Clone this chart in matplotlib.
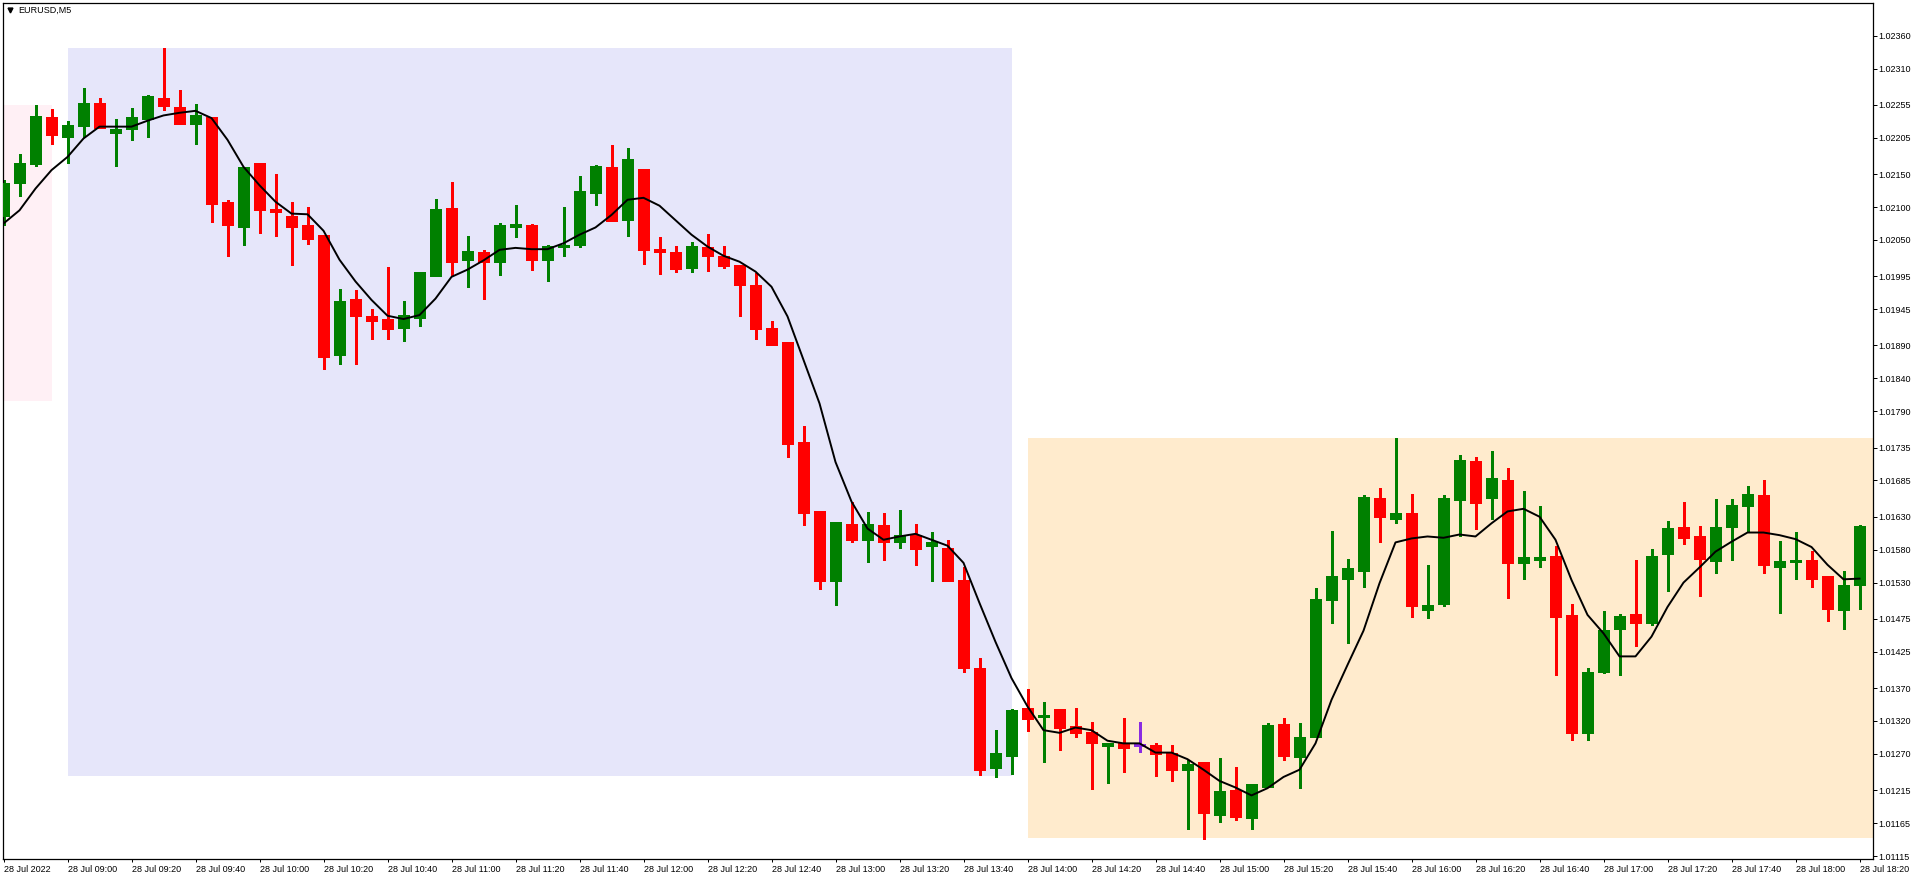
import numpy as np
import matplotlib
matplotlib.use("Agg")
import matplotlib.pyplot as plt
from matplotlib.patches import Rectangle
from matplotlib.lines import Line2D

plt.rcParams['font.family'] = ['Liberation Sans', 'DejaVu Sans']

# EURUSD M5, 28 Jul 2022, 08:40 .. 18:20 (one row = 10 bars)
opens = [1.02087, 1.02137, 1.02166, 1.02237, 1.02207, 1.02223, 1.02258, 1.02213, 1.02218, 1.02234,
         1.02265, 1.02252, 1.02226, 1.02237, 1.02108, 1.02070, 1.02167, 1.02097, 1.02087, 1.02072,
         1.02058, 1.01876, 1.01960, 1.01935, 1.01930, 1.01917, 1.01932, 1.01996, 1.02099, 1.02020,
         1.02032, 1.02016, 1.02070, 1.02073, 1.02019, 1.02040, 1.02043, 1.02122, 1.02161, 1.02081,
         1.02158, 1.02036, 1.02032, 1.02008, 1.02039, 1.02026, 1.02012, 1.01981, 1.01916, 1.01895,
         1.01743, 1.01639, 1.01533, 1.01619, 1.01594, 1.01617, 1.01592, 1.01602, 1.01586, 1.01583,
         1.01534, 1.01400, 1.01248, 1.01267, 1.01340, 1.01326, 1.01338, 1.01312, 1.01303, 1.01282,
         1.01286, 1.01284, 1.01284, 1.01271, 1.01246, 1.01258, 1.01178, 1.01215, 1.01172, 1.01220,
         1.01315, 1.01266, 1.01295, 1.01503, 1.01536, 1.01548, 1.01658, 1.01627, 1.01636, 1.01489,
         1.01498, 1.01656, 1.01715, 1.01659, 1.01686, 1.01560, 1.01565, 1.01570, 1.01481, 1.01301,
         1.01395, 1.01459, 1.01483, 1.01469, 1.01574, 1.01614, 1.01601, 1.01563, 1.01615, 1.01647,
         1.01663, 1.01553, 1.01562, 1.01564, 1.01540, 1.01489, 1.01527]

highs = [1.02141, 1.02180, 1.02255, 1.02249, 1.02231, 1.02281, 1.02265, 1.02234, 1.02250, 1.02270,
         1.02341, 1.02278, 1.02256, 1.02237, 1.02111, 1.02161, 1.02167, 1.02150, 1.02107, 1.02100,
         1.02058, 1.01976, 1.01974, 1.01945, 1.02009, 1.01957, 1.02001, 1.02112, 1.02138, 1.02056,
         1.02035, 1.02076, 1.02103, 1.02074, 1.02042, 1.02100, 1.02147, 1.02164, 1.02194, 1.02190,
         1.02158, 1.02054, 1.02041, 1.02047, 1.02059, 1.02041, 1.02012, 1.02000, 1.01927, 1.01895,
         1.01768, 1.01639, 1.01622, 1.01652, 1.01637, 1.01636, 1.01640, 1.01619, 1.01607, 1.01594,
         1.01553, 1.01416, 1.01306, 1.01338, 1.01369, 1.01349, 1.01338, 1.01340, 1.01318, 1.01286,
         1.01324, 1.01318, 1.01286, 1.01284, 1.01261, 1.01258, 1.01264, 1.01250, 1.01224, 1.01317,
         1.01324, 1.01317, 1.01522, 1.01608, 1.01566, 1.01663, 1.01674, 1.01749, 1.01664, 1.01557,
         1.01663, 1.01724, 1.01721, 1.01730, 1.01704, 1.01669, 1.01646, 1.01586, 1.01498, 1.01400,
         1.01487, 1.01482, 1.01564, 1.01581, 1.01623, 1.01652, 1.01616, 1.01657, 1.01657, 1.01677,
         1.01686, 1.01593, 1.01607, 1.01578, 1.01540, 1.01548, 1.01617]

lows = [1.02072, 1.02116, 1.02163, 1.02195, 1.02167, 1.02207, 1.02220, 1.02162, 1.02201, 1.02207,
        1.02247, 1.02226, 1.02195, 1.02078, 1.02026, 1.02043, 1.02061, 1.02056, 1.02012, 1.02044,
        1.01854, 1.01861, 1.01862, 1.01899, 1.01900, 1.01896, 1.01920, 1.01996, 1.01997, 1.01978,
        1.01961, 1.01997, 1.02055, 1.02005, 1.01987, 1.02026, 1.02040, 1.02103, 1.02079, 1.02056,
        1.02014, 1.01999, 1.02002, 1.02002, 1.02003, 1.02008, 1.01934, 1.01900, 1.01891, 1.01721,
        1.01618, 1.01521, 1.01496, 1.01592, 1.01562, 1.01565, 1.01583, 1.01556, 1.01533, 1.01533,
        1.01395, 1.01238, 1.01235, 1.01240, 1.01305, 1.01257, 1.01276, 1.01295, 1.01217, 1.01226,
        1.01243, 1.01273, 1.01237, 1.01229, 1.01156, 1.01141, 1.01166, 1.01169, 1.01156, 1.01220,
        1.01261, 1.01219, 1.01295, 1.01469, 1.01439, 1.01524, 1.01591, 1.01621, 1.01478, 1.01477,
        1.01495, 1.01600, 1.01612, 1.01627, 1.01507, 1.01536, 1.01553, 1.01389, 1.01291, 1.01291,
        1.01393, 1.01389, 1.01434, 1.01466, 1.01518, 1.01588, 1.01510, 1.01544, 1.01565, 1.01607,
        1.01545, 1.01484, 1.01536, 1.01524, 1.01471, 1.01460, 1.01490]

closes = [1.02136, 1.02167, 1.02238, 1.02210, 1.02224, 1.02258, 1.02220, 1.02218, 1.02237, 1.02268,
          1.02253, 1.02226, 1.02240, 1.02104, 1.02072, 1.02161, 1.02096, 1.02093, 1.02069, 1.02052,
          1.01873, 1.01957, 1.01935, 1.01927, 1.01915, 1.01936, 1.02001, 1.02097, 1.02017, 1.02033,
          1.02016, 1.02073, 1.02074, 1.02020, 1.02041, 1.02042, 1.02124, 1.02162, 1.02079, 1.02173,
          1.02035, 1.02031, 1.02006, 1.02041, 1.02025, 1.02011, 1.01981, 1.01915, 1.01891, 1.01741,
          1.01636, 1.01533, 1.01622, 1.01595, 1.01619, 1.01591, 1.01602, 1.01581, 1.01592, 1.01533,
          1.01401, 1.01245, 1.01271, 1.01337, 1.01323, 1.01329, 1.01310, 1.01302, 1.01286, 1.01286,
          1.01279, 1.01284, 1.01270, 1.01245, 1.01255, 1.01181, 1.01214, 1.01175, 1.01224, 1.01314,
          1.01267, 1.01296, 1.01505, 1.01540, 1.01552, 1.01660, 1.01630, 1.01636, 1.01495, 1.01496,
          1.01658, 1.01716, 1.01651, 1.01689, 1.01560, 1.01569, 1.01569, 1.01478, 1.01302, 1.01394,
          1.01458, 1.01479, 1.01469, 1.01570, 1.01613, 1.01598, 1.01566, 1.01614, 1.01648, 1.01664,
          1.01556, 1.01563, 1.01564, 1.01536, 1.01490, 1.01526, 1.01616]

# moving average line
ma = [1.02075, 1.02095, 1.02128, 1.02156, 1.02176, 1.02204, 1.02222, 1.02222, 1.02222, 1.02231,
      1.02239, 1.02243, 1.02246, 1.02235, 1.02202, 1.02161, 1.02133, 1.02108, 1.02090, 1.02089,
      1.02064, 1.02020, 1.01987, 1.01959, 1.01935, 1.01930, 1.01936, 1.01961, 1.01994, 1.02005,
      1.02019, 1.02035, 1.02038, 1.02036, 1.02036, 1.02045, 1.02058, 1.02069, 1.02088, 1.02111,
      1.02114, 1.02102, 1.02080, 1.02058, 1.02040, 1.02026, 1.02017, 1.02002, 1.01979, 1.01934,
      1.01868, 1.01802, 1.01713, 1.01653, 1.01612, 1.01595, 1.01600, 1.01604, 1.01595, 1.01586,
      1.01560, 1.01499, 1.01440, 1.01385, 1.01342, 1.01306, 1.01302, 1.01310, 1.01306, 1.01290,
      1.01286, 1.01286, 1.01272, 1.01272, 1.01262, 1.01246, 1.01229, 1.01219, 1.01207, 1.01218,
      1.01235, 1.01246, 1.01286, 1.01352, 1.01405, 1.01457, 1.01529, 1.01591, 1.01597, 1.01600,
      1.01598, 1.01603, 1.01600, 1.01620, 1.01638, 1.01642, 1.01630, 1.01595, 1.01534, 1.01481,
      1.01453, 1.01418, 1.01418, 1.01448, 1.01493, 1.01530, 1.01553, 1.01577, 1.01592, 1.01606,
      1.01606, 1.01602, 1.01596, 1.01584, 1.01557, 1.01535, 1.01536]

# session boxes (bar index from/to, price high/low)
box_start = [-5, 4, 64]
box_end = [3, 63, 125]
box_top = [1.02255, 1.02341, 1.01750]
box_bottom = [1.01806, 1.01237, 1.01143]
box_colors = ['#FFF0F5', '#E6E6FA', '#FFEBCD']

time_labels = ["28 Jul 2022", "28 Jul 09:00", "28 Jul 09:20", "28 Jul 09:40", "28 Jul 10:00",
               "28 Jul 10:20", "28 Jul 10:40", "28 Jul 11:00", "28 Jul 11:20", "28 Jul 11:40",
               "28 Jul 12:00", "28 Jul 12:20", "28 Jul 12:40", "28 Jul 13:00", "28 Jul 13:20",
               "28 Jul 13:40", "28 Jul 14:00", "28 Jul 14:20", "28 Jul 14:40", "28 Jul 15:00",
               "28 Jul 15:20", "28 Jul 15:40", "28 Jul 16:00", "28 Jul 16:20", "28 Jul 16:40",
               "28 Jul 17:00", "28 Jul 17:20", "28 Jul 17:40", "28 Jul 18:00", "28 Jul 18:20"]

price_ticks = [1.02360, 1.02310, 1.02255, 1.02205, 1.02150, 1.02100, 1.02050, 1.01995, 1.01945,
               1.01890, 1.01840, 1.01790, 1.01735, 1.01685, 1.01630, 1.01580, 1.01530, 1.01475,
               1.01425, 1.01370, 1.01320, 1.01270, 1.01215, 1.01165, 1.01115]

print(len(opens), len(highs), len(lows), len(closes), len(ma))

W, H = 1918, 880
fig = plt.figure(figsize=(W / 100, H / 100), dpi=100)
ax = fig.add_axes([2.5 / W, 21 / H, 1870.2 / W, 856.3 / H])

for s, e, t, b, c in zip(box_start, box_end, box_top, box_bottom, box_colors):
    ax.add_patch(Rectangle((s, b), e - s, t - b, facecolor=c, edgecolor='none', zorder=0))

x = np.arange(len(opens))
for k, o, h, l, c in zip(x, opens, highs, lows, closes):
    if c > o:
        col = '#008000'
    elif c < o:
        col = '#FF0000'
    else:
        col = '#8A2BE2'
    ax.vlines(k, l, h, color=col, linewidth=0.75, zorder=2, antialiased=False)
    if c == o:
        ax.hlines(o, k - 0.34, k + 0.34, color=col, linewidth=0.75, zorder=3, antialiased=False)
    else:
        ax.bar(k, abs(c - o), bottom=min(o, c), width=0.68, color=col, edgecolor=col,
               linewidth=0.5, zorder=3, antialiased=False)

ax.plot(x, ma, color='black', linewidth=1.4, zorder=4)

ax.set_xlim(-0.0625, 116.825)
ax.set_ylim(1.011105, 1.024101)

ax.yaxis.tick_right()
ax.set_yticks(price_ticks)
ax.set_yticklabels([f"{p:.5f}" for p in price_ticks])
ax.tick_params(axis='y', direction='out', length=3, width=0.72, pad=1.2, labelsize=6.5,
               colors='black')

ax.set_xticks(x[::4])
ax.set_xticklabels(time_labels, ha='left')
ax.tick_params(axis='x', direction='out', length=2.3, width=0.72, pad=2, labelsize=6.5,
               colors='black')

for sp in ax.spines.values():
    sp.set_color('black')
    sp.set_linewidth(0.9)

# symbol caption top-left
fig.add_artist(Line2D([10 / W], [1 - 10.5 / H], marker='v', markersize=3.5, color='black',
                      transform=fig.transFigure))
fig.text(18 / W, 1 - 10.7 / H, "EURUSD,M5", fontsize=6.5, va='center', ha='left', color='black')

fig.savefig('out.png', dpi=100)
